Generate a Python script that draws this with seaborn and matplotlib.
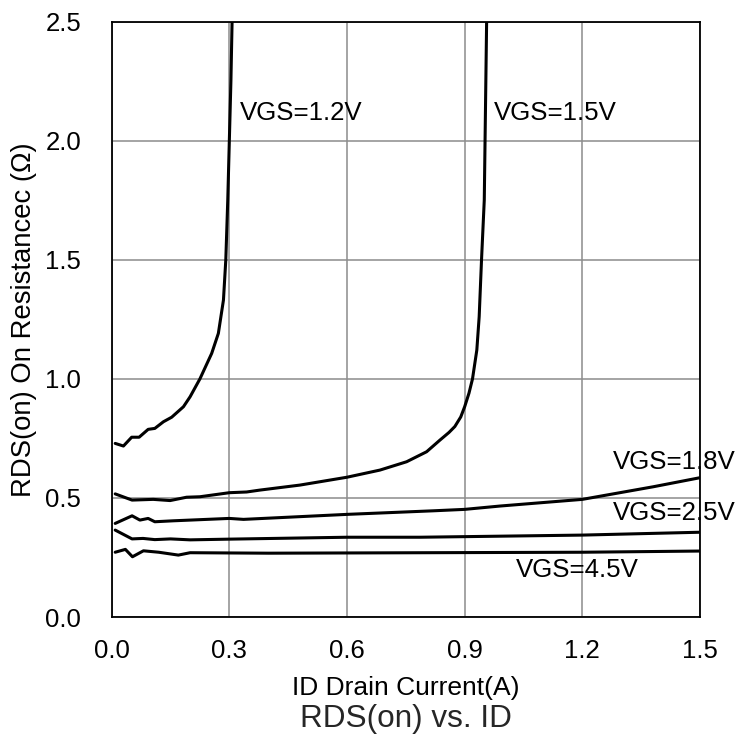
import seaborn as sns
import pandas as pd
from matplotlib import pyplot as plt

sns.set_style("whitegrid")
plt.rcParams['font.family'] = ['Liberation Sans', 'DejaVu Sans']

# Curves (ID in A, RDS(on) in ohm)
id_12 = [0.009, 0.030, 0.051, 0.070, 0.093, 0.110, 0.132, 0.153, 0.183, 0.200, 0.225,
         0.255, 0.272, 0.285, 0.291, 0.296, 0.300, 0.304, 0.307]
rds_12 = [0.729, 0.718, 0.755, 0.755, 0.788, 0.792, 0.820, 0.839, 0.883, 0.925, 1.000,
          1.107, 1.191, 1.331, 1.500, 1.751, 2.000, 2.250, 2.5]

id_15 = [0.009, 0.052, 0.106, 0.149, 0.191, 0.225, 0.300, 0.344, 0.378, 0.480, 0.600,
         0.684, 0.752, 0.803, 0.837, 0.860, 0.875, 0.890, 0.900, 0.911, 0.920, 0.931,
         0.937, 0.943, 0.950, 0.952, 0.954, 0.956]
rds_15 = [0.517, 0.491, 0.494, 0.489, 0.503, 0.505, 0.522, 0.525, 0.533, 0.554, 0.587,
          0.617, 0.652, 0.694, 0.743, 0.775, 0.800, 0.840, 0.883, 0.940, 1.000, 1.121,
          1.261, 1.500, 1.751, 2.000, 2.250, 2.5]

id_18 = [0.009, 0.052, 0.072, 0.093, 0.110, 0.157, 0.300, 0.336, 0.600, 0.820, 0.900,
         0.990, 1.200, 1.381, 1.500]
rds_18 = [0.393, 0.425, 0.407, 0.414, 0.400, 0.404, 0.414, 0.410, 0.431, 0.446, 0.452,
          0.466, 0.494, 0.547, 0.585]

id_25 = [0.009, 0.052, 0.080, 0.110, 0.150, 0.200, 0.300, 0.600, 0.786, 1.200, 1.500]
rds_25 = [0.365, 0.328, 0.330, 0.325, 0.328, 0.324, 0.327, 0.335, 0.335, 0.344, 0.356]

id_45 = [0.009, 0.035, 0.053, 0.081, 0.120, 0.170, 0.200, 0.400, 0.800, 1.200, 1.500]
rds_45 = [0.272, 0.284, 0.253, 0.278, 0.272, 0.260, 0.270, 0.268, 0.270, 0.272, 0.277]

labels = ["VGS=1.2V", "VGS=1.5V", "VGS=1.8V", "VGS=2.5V", "VGS=4.5V"]
label_x = [0.327, 0.975, 1.278, 1.278, 1.031]
label_y = [2.117, 2.117, 0.651, 0.437, 0.197]

x_ticks = [0.0, 0.3, 0.6, 0.9, 1.2, 1.5]
y_ticks = [0.0, 0.5, 1.0, 1.5, 2.0, 2.5]

fig = plt.figure(figsize=(7.53, 7.45), dpi=100)
ax = fig.add_axes([0.1483, 0.1718, 0.7813, 0.7991])

curves = [(id_12, rds_12), (id_15, rds_15), (id_18, rds_18), (id_25, rds_25), (id_45, rds_45)]
for xs, ys in curves:
    df = pd.DataFrame({'id': xs, 'rds': ys})
    sns.lineplot(data=df, x='id', y='rds', ax=ax, color='black', lw=2.2, sort=False,
                 solid_joinstyle='round', solid_capstyle='round')

for lab, lx, ly in zip(labels, label_x, label_y):
    ax.text(lx, ly, lab, fontsize=18.6, va='center', ha='left', color='black')

ax.set_xlim(0, 1.5)
ax.set_ylim(0, 2.5)
ax.set_xticks(x_ticks)
ax.set_yticks(y_ticks)
ax.set_xticklabels([f"{t:.1f}" for t in x_ticks])
ax.set_yticklabels([f"{t:.1f}" for t in y_ticks])
ax.tick_params(axis='x', length=0, pad=16, labelsize=18.5, colors='black')
ax.tick_params(axis='y', length=0, pad=22, labelsize=18.5, colors='black')
ax.grid(True, color='#8c8c8c', lw=1.1)
for s in ax.spines.values():
    s.set_color('black')
    s.set_linewidth(1.3)

ax.set_xlabel('ID Drain Current(A)', fontsize=19, labelpad=9, color='black')
ax.set_ylabel('RDS(on) On Resistancec (Ω)', fontsize=19.8, labelpad=6, color='black')
fig.text(0.539, 1 - 719 / 745, 'RDS(on) vs. ID', fontsize=22.7, ha='center', va='center')

plt.savefig('out.png', dpi=100)
